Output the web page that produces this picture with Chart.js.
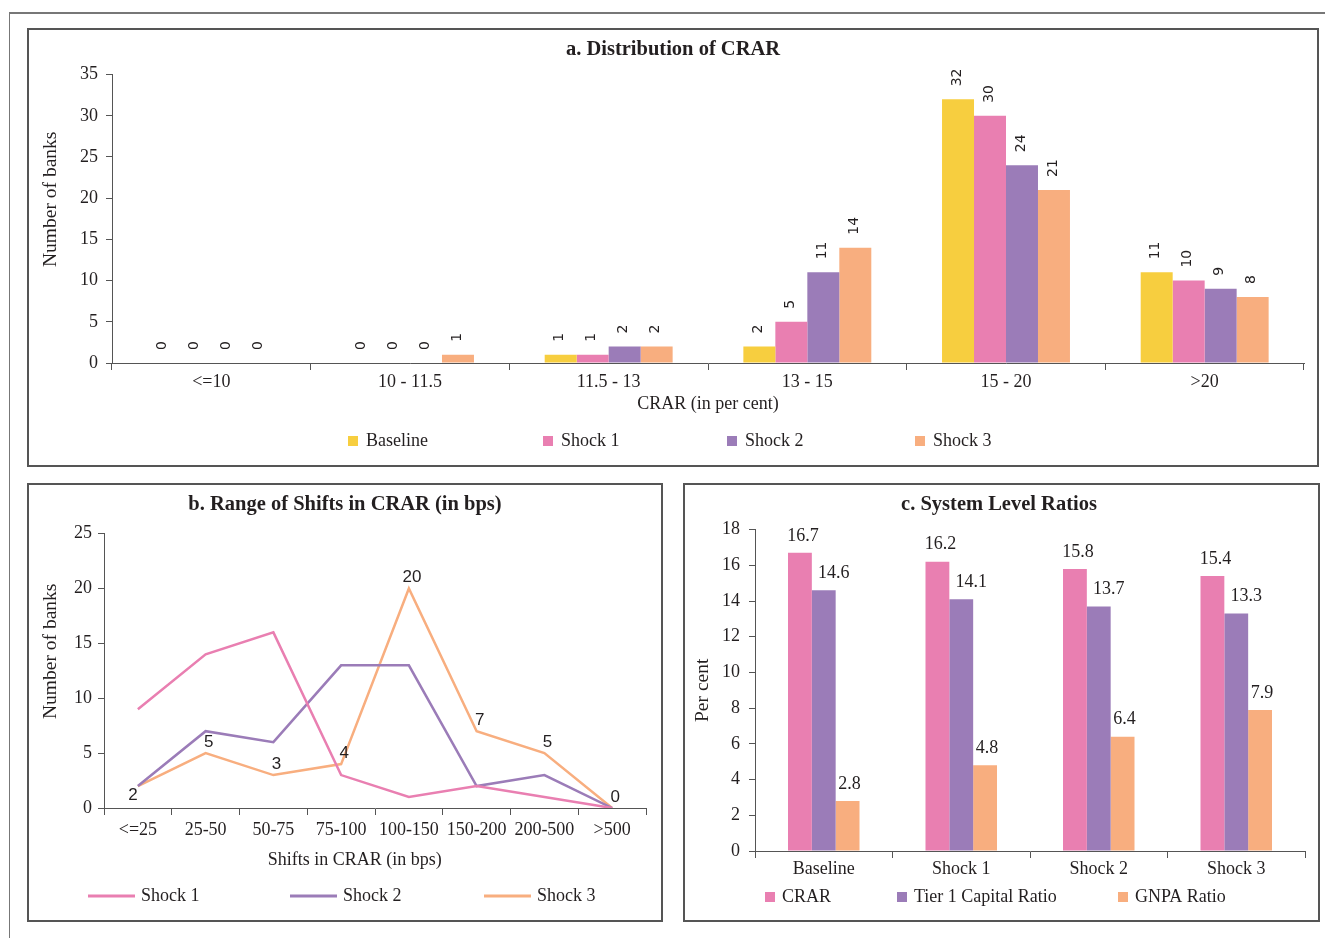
<!DOCTYPE html>
<html><head><meta charset="utf-8">
<script src="https://cdn.jsdelivr.net/npm/chart.js@4/dist/chart.umd.min.js"></script>
<style>
html,body{margin:0;padding:0;background:#fff;width:1325px;height:938px;overflow:hidden;position:relative}
.frame{position:absolute;left:9px;top:12px;width:1400px;height:1000px;border-left:1px solid #777;border-top:2px solid #777}
.panel{position:absolute;box-sizing:border-box;border:2px solid #555}
canvas{position:absolute}
</style></head><body>
<div class="frame"></div>
<div class="panel" style="left:27px;top:28px;width:1292px;height:439px"></div>
<div class="panel" style="left:27px;top:483px;width:636px;height:439px"></div>
<div class="panel" style="left:683px;top:483px;width:637px;height:439px"></div>
<canvas id="ca" width="1287" height="434" style="left:29px;top:30px"></canvas>
<canvas id="cb" width="631" height="434" style="left:29px;top:485px"></canvas>
<canvas id="cc" width="632" height="434" style="left:685px;top:485px"></canvas>
<script>
// ---- data ----
const crarCategories = ['<=10', '10 - 11.5', '11.5 - 13', '13 - 15', '15 - 20', '>20'];
const crarBaseline = [0, 0, 1, 2, 32, 11];
const crarShock1 = [0, 0, 1, 5, 30, 10];
const crarShock2 = [0, 0, 2, 11, 24, 9];
const crarShock3 = [0, 1, 2, 14, 21, 8];

const shiftCategories = ['<=25', '25-50', '50-75', '75-100', '100-150', '150-200', '200-500', '>500'];
const shiftShock1 = [9, 14, 16, 3, 1, 2, 1, 0];
const shiftShock2 = [2, 7, 6, 13, 13, 2, 3, 0];
const shiftShock3 = [2, 5, 3, 4, 20, 7, 5, 0];

const ratioCategories = ['Baseline', 'Shock 1', 'Shock 2', 'Shock 3'];
const ratioCRAR = [16.7, 16.2, 15.8, 15.4];
const ratioTier1 = [14.6, 14.1, 13.7, 13.3];
const ratioGNPA = [2.8, 4.8, 6.4, 7.9];

// ---- style ----
const SERIF = "'Liberation Serif', 'DejaVu Serif', serif";
const TXT = '#231f20';
const AX = '#555555';
const YELLOW = '#F7CE3F', PINK = '#E97FB1', PURPLE = '#9B7CB8', ORANGE = '#F8AE7F';
const NB = '\u00A0';

const legendPlugin = {
  id: 'sideLegend',
  afterDraw(chart, args, opts) {
    if (!opts || !opts.xs) return;
    const ctx = chart.ctx;
    ctx.save();
    ctx.font = opts.font;
    ctx.textBaseline = 'middle';
    ctx.textAlign = 'left';
    chart.data.datasets.forEach((ds, i) => {
      const x = opts.xs[i], y = opts.y;
      if (opts.type === 'line') {
        ctx.strokeStyle = ds.borderColor; ctx.lineWidth = 3;
        ctx.beginPath(); ctx.moveTo(x, y); ctx.lineTo(x + opts.len, y); ctx.stroke();
        ctx.fillStyle = opts.color;
        ctx.fillText(ds.label, x + opts.len + opts.gap, y);
      } else {
        ctx.fillStyle = ds.backgroundColor;
        ctx.fillRect(x, y - opts.box / 2, opts.box, opts.box);
        ctx.fillStyle = opts.color;
        ctx.fillText(ds.label, x + opts.box + opts.gap, y);
      }
    });
    ctx.restore();
  }
};

const labelPlugin = {
  id: 'valueLabels',
  afterDatasetsDraw(chart, args, opts) {
    if (!opts || !opts.mode) return;
    const ctx = chart.ctx;
    ctx.save();
    ctx.font = opts.font;
    ctx.fillStyle = opts.color;
    chart.data.datasets.forEach((ds, di) => {
      if (opts.only !== undefined && opts.only !== di) return;
      const meta = chart.getDatasetMeta(di);
      meta.data.forEach((el, i) => {
        const txt = String(ds.data[i]);
        if (opts.mode === 'rotated') {
          ctx.save();
          ctx.translate(el.x - 1, el.y - opts.gap);
          ctx.rotate(-Math.PI / 2);
          ctx.textAlign = 'left'; ctx.textBaseline = 'middle';
          ctx.fillText(txt, 0, 0);
          ctx.restore();
        } else if (opts.mode === 'bar') {
          ctx.textAlign = 'center'; ctx.textBaseline = 'bottom';
          ctx.fillText(txt, el.x + opts.dx[di], el.y - opts.gap);
        } else if (opts.mode === 'point') {
          ctx.textAlign = 'center'; ctx.textBaseline = 'middle';
          if (i === 0) ctx.fillText(txt, el.x - 5, el.y + 9);
          else ctx.fillText(txt, el.x + 3, el.y - 11);
        }
      });
    });
    ctx.restore();
  }
};

function yAxis(max, step, title, width, pad, titlePad) {
  return {
    min: 0, max: max,
    ticks: { stepSize: step, font: { family: SERIF, size: 18 }, color: TXT, padding: pad },
    grid: { drawOnChartArea: false, drawTicks: true, tickLength: 6, color: AX },
    border: { display: true, color: AX, width: 1 },
    title: { display: true, text: title, font: { family: SERIF, size: 19.5 }, color: TXT, padding: { top: titlePad, bottom: 0 } },
    afterFit(s) { s.width = width; }
  };
}
function xAxis(title, height, pad) {
  return {
    offset: true,
    ticks: { font: { family: SERIF, size: 18 }, color: TXT, padding: pad, maxRotation: 0, autoSkip: false },
    grid: { drawOnChartArea: false, drawTicks: true, tickLength: 7, color: AX, offset: true },
    border: { display: true, color: AX, width: 1 },
    title: { display: !!title, text: title || '', font: { family: SERIF, size: 18 }, color: TXT, padding: { top: 0, bottom: 0 } },
    afterFit(s) { s.height = height; }
  };
}
function titleOpt(text, bottom) {
  return { display: true, text: text, font: { family: SERIF, size: 20.5, weight: 'bold' }, color: TXT, padding: { top: 7, bottom: bottom } };
}

// ---- chart a ----
new Chart(document.getElementById('ca'), {
  type: 'bar',
  data: {
    labels: crarCategories,
    datasets: [
      { label: 'Baseline', data: crarBaseline, backgroundColor: YELLOW },
      { label: 'Shock 1', data: crarShock1, backgroundColor: PINK },
      { label: 'Shock 2', data: crarShock2, backgroundColor: PURPLE },
      { label: 'Shock 3', data: crarShock3, backgroundColor: ORANGE }
    ]
  },
  options: {
    responsive: false, animation: false,
    layout: { padding: { left: 13, right: 12, top: 0, bottom: 49 } },
    datasets: { bar: { categoryPercentage: 0.644, barPercentage: 1.0, borderWidth: 0 } },
    scales: { x: xAxis('CRAR (in per cent)', 52, 1), y: yAxis(35, 5, NB.repeat(8) + 'Number of banks', 70, 8, -3) },
    plugins: {
      legend: { display: false }, tooltip: { enabled: false },
      title: titleOpt('a. Distribution of CRAR', 13),
      sideLegend: { xs: [319, 514, 698, 886], y: 411, box: 10, gap: 8, font: '18px ' + SERIF, color: TXT, type: 'box' },
      valueLabels: { mode: 'rotated', gap: 13, font: '14px "DejaVu Sans", sans-serif', color: TXT }
    }
  },
  plugins: [legendPlugin, labelPlugin]
});

// ---- chart b ----
new Chart(document.getElementById('cb'), {
  type: 'line',
  data: {
    labels: shiftCategories,
    datasets: [
      { label: 'Shock 1', data: shiftShock1, borderColor: PINK, backgroundColor: PINK },
      { label: 'Shock 2', data: shiftShock2, borderColor: PURPLE, backgroundColor: PURPLE },
      { label: 'Shock 3', data: shiftShock3, borderColor: ORANGE, backgroundColor: ORANGE }
    ]
  },
  options: {
    responsive: false, animation: false,
    layout: { padding: { left: 15, right: 14, top: 0, bottom: 48 } },
    datasets: { line: { borderWidth: 2.5, pointRadius: 0, tension: 0, fill: false } },
    scales: { x: xAxis('Shifts in CRAR (in bps)' + NB.repeat(9), 63, 4), y: yAxis(25, 5, NB.repeat(8) + 'Number of banks', 60, 6, -5) },
    plugins: {
      legend: { display: false }, tooltip: { enabled: false },
      title: titleOpt('b. Range of Shifts in CRAR (in bps)', 17),
      sideLegend: { xs: [59, 261, 455], y: 411, len: 47, gap: 6, font: '18px ' + SERIF, color: TXT, type: 'line' },
      valueLabels: { mode: 'point', only: 2, font: '17px "Liberation Sans", sans-serif', color: TXT }
    }
  },
  plugins: [legendPlugin, labelPlugin]
});

// ---- chart c ----
new Chart(document.getElementById('cc'), {
  type: 'bar',
  data: {
    labels: ratioCategories,
    datasets: [
      { label: 'CRAR', data: ratioCRAR, backgroundColor: PINK },
      { label: 'Tier 1 Capital Ratio', data: ratioTier1, backgroundColor: PURPLE },
      { label: 'GNPA Ratio', data: ratioGNPA, backgroundColor: ORANGE }
    ]
  },
  options: {
    responsive: false, animation: false,
    layout: { padding: { left: 8, right: 12, top: 0, bottom: 38 } },
    datasets: { bar: { categoryPercentage: 0.52, barPercentage: 1.0, borderWidth: 0 } },
    scales: { x: xAxis('', 30, 0), y: yAxis(18, 2, 'Per cent', 62, 9, -2) },
    plugins: {
      legend: { display: false }, tooltip: { enabled: false },
      title: titleOpt('c. System Level Ratios', 13),
      sideLegend: { xs: [80, 212, 433], y: 412, box: 10, gap: 7, font: '18px ' + SERIF, color: TXT, type: 'box' },
      valueLabels: { mode: 'bar', gap: 8, dx: [3, 10, 2], font: '18px ' + SERIF, color: TXT }
    }
  },
  plugins: [legendPlugin, labelPlugin]
});
</script>
</body></html>
